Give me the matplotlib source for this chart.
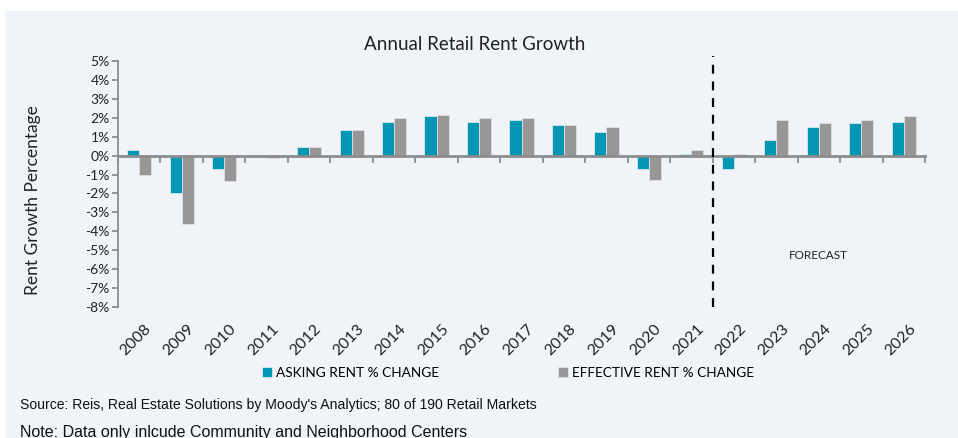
import matplotlib.pyplot as plt
from matplotlib.patches import Rectangle
import numpy as np

years = ['2008', '2009', '2010', '2011', '2012', '2013', '2014', '2015', '2016', '2017',
         '2018', '2019', '2020', '2021', '2022', '2023', '2024', '2025', '2026']
asking = [0.3, -2.0, -0.7, 0.0, 0.45, 1.35, 1.8, 2.1, 1.8, 1.9,
          1.6, 1.25, -0.7, 0.1, -0.7, 0.8, 1.5, 1.7, 1.8]
effective = [-1.0, -3.6, -1.35, -0.1, 0.45, 1.35, 2.0, 2.15, 2.0, 2.0,
             1.6, 1.5, -1.3, 0.3, 0.1, 1.9, 1.7, 1.9, 2.1]
yticks = list(range(-8, 6))
forecast_start = '2022'

teal = '#0096B4'
grey = '#979797'
bg = '#F0F4F8'
axis_grey = '#8C8C8C'

plt.rcParams['font.family'] = ['Lato', 'DejaVu Sans']

fig = plt.figure(figsize=(9.58, 4.38), dpi=100, facecolor='white')
# light panel behind the whole chart
fig.patches.append(Rectangle((5 / 958, 0), 1, 1 - 11 / 438, transform=fig.transFigure,
                             facecolor=bg, edgecolor='none', zorder=-10))
ax = fig.add_axes([118 / 958, 1 - 307 / 438, 807 / 958, 246 / 438])
ax.patch.set_alpha(0)

x = np.arange(len(years))
w = 0.285
ax.bar(x - w / 2, asking, w, color=teal, edgecolor='#D8E6EC', linewidth=0.6,
       label='ASKING RENT % CHANGE', zorder=2)
ax.bar(x + w / 2, effective, w, color=grey, edgecolor='#E0E0E0', linewidth=0.6,
       label='EFFECTIVE RENT % CHANGE', zorder=2)

ax.set_xlim(-0.5, len(years) - 0.5)
ax.set_ylim(-8, 5)
ax.set_yticks(yticks)
ax.set_yticklabels([f'{v}%' for v in yticks], fontsize=10, color='#222222')

for s in ['top', 'right']:
    ax.spines[s].set_visible(False)
ax.spines['left'].set_color(axis_grey)
ax.spines['left'].set_linewidth(1.3)
ax.spines['bottom'].set_position(('data', 0))
ax.spines['bottom'].set_color(axis_grey)
ax.spines['bottom'].set_linewidth(2)
ax.tick_params(axis='y', length=4, color=axis_grey, width=1.3, pad=2)

# ticks between categories on the zero line, labels below the plot
ax.set_xticks(list(x - 0.5) + [len(years) - 0.5], minor=True)
ax.set_xticks(x)
ax.set_xticklabels([])
ax.tick_params(axis='x', which='major', length=0)
ax.tick_params(axis='x', which='minor', length=5, color=axis_grey, width=1.3, direction='out')
for i, yr in enumerate(years):
    ax.text(i + 0.12, -8.8, yr, rotation=45, ha='right', va='top', fontsize=11.5,
            color='#222222', rotation_mode='anchor')

fx = years.index(forecast_start) - 0.5
ax.axvline(fx, ymin=0.0, ymax=1.02, color='black', linestyle=(0, (4, 3.5)), linewidth=1.6,
           clip_on=False, zorder=3)
ax.text(years.index('2023') + 1.0, -5.3, 'FORECAST', fontsize=8.5, ha='center', va='center',
        color='#222222')

fig.text(475 / 958, 1 - 45 / 438, 'Annual Retail Rent Growth', fontsize=13.5, ha='center',
         va='center', color='#222222')
ax.set_ylabel('Rent Growth Percentage', fontsize=12.5, color='#222222')
ax.yaxis.set_label_coords(-0.096, 0.435)

fig.legend(loc='center', bbox_to_anchor=(508 / 958, 1 - 373 / 438), ncol=2, frameon=False,
           fontsize=9.8, handlelength=0.7, handleheight=0.7, handletextpad=0.3,
           columnspacing=8.8)

small = ['Liberation Sans', 'DejaVu Sans']
fig.text(20 / 958, 1 - 405 / 438, "Source: Reis, Real Estate Solutions by Moody's Analytics; 80 of 190 Retail Markets",
         fontsize=10.1, family=small, va='center', color='#111111')
fig.text(20 / 958, 1 - 432 / 438, 'Note: Data only inlcude Community and Neighborhood Centers',
         fontsize=11.5, family=small, va='center', color='#111111')

fig.savefig('out.png', dpi=100, facecolor='white')
